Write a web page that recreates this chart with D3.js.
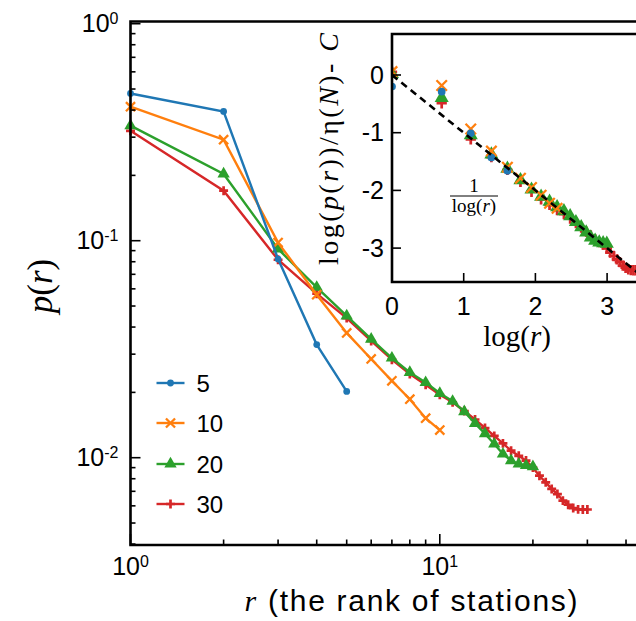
<!DOCTYPE html>
<html>
<head>
<meta charset="utf-8">
<script src="https://cdn.jsdelivr.net/npm/d3@7"></script>
<style>
  body { margin: 0; background: #fff; }
  svg { display: block; }
</style>
</head>
<body>
<svg id="chart" width="636" height="621"></svg>
<script>
// ---- data ----
const seriesNames = ["5", "10", "20", "30"];
const seriesColors = ["#1f77b4", "#ff7f0e", "#2ca02c", "#d62728"];
const p5 = [0.477, 0.394, 0.0823, 0.0332, 0.0202];
const p10 = [0.4145, 0.292, 0.098, 0.0564, 0.0376, 0.0285, 0.0226, 0.0186, 0.0152, 0.0134];
const p20 = [0.339, 0.203, 0.0916, 0.061, 0.045, 0.0352, 0.0288, 0.0247, 0.0222, 0.0198,
             0.0182, 0.0163, 0.0144, 0.0129, 0.01156, 0.0104, 0.0097, 0.00935, 0.0092, 0.0091];
const p30 = [0.321, 0.17, 0.0817, 0.057, 0.044, 0.0345, 0.0283, 0.0243, 0.0217, 0.0195,
             0.018, 0.0164, 0.015, 0.0137, 0.0126, 0.01164, 0.01077, 0.0102, 0.0097, 0.009,
             0.00826, 0.0077, 0.00718, 0.0068, 0.00634, 0.00607, 0.00586, 0.00578, 0.00577, 0.00577];
// inset: log(p(r))/eta(N) - C, one eta and C per N
const etaN = [2.165, 1.448, 1.23, 1.169];
const shiftC = [-0.142, -0.668, -0.899, -1.026];

const xMajor = [1, 10];
const xMinor = [2, 3, 4, 5, 6, 7, 8, 9, 20, 30, 40, 50];
const yMajor = [1, 0.1, 0.01];
const yMinor = [0.9, 0.8, 0.7, 0.6, 0.5, 0.4, 0.3, 0.2,
                0.09, 0.08, 0.07, 0.06, 0.05, 0.04, 0.03, 0.02,
                0.009, 0.008, 0.007, 0.006, 0.005, 0.004];
const insetXTicks = [0, 1, 2, 3];
const insetYTicks = [0, -1, -2, -3];

const series = [p5, p10, p20, p30].map((vals, i) => ({
  name: seriesNames[i],
  color: seriesColors[i],
  eta: etaN[i],
  c: shiftC[i],
  idx: i,
  points: vals.map((p, j) => ({ r: j + 1, p }))
}));

// ---- layout ----
const svg = d3.select("#chart");
const W = 636, H = 621;
const frame = { left: 130.5, top: 21.5, bottom: 545, right: 720 };
const sans = "'Liberation Sans', Arial, Helvetica, sans-serif";
const serif = "'Liberation Serif', 'Times New Roman', serif";

const x = d3.scaleLog().domain([1, 10]).range([130.5, 439.8]);
const y = d3.scaleLog().domain([1, 0.01]).range([23.7, 457.7]);

const markerFor = (i, big) => {
  const s = big ? 1.3 : 1;
  if (i === 0) return d3.symbol(d3.symbolCircle, 36 * s)();
  if (i === 1) return d3.symbol(d3.symbolTimes, 56 * s)();
  if (i === 2) return d3.symbol(d3.symbolTriangle, 66 * s)();
  return d3.symbol(d3.symbolPlus, 28 * s)();
};
const styleMarker = (sel, d) => {
  if (d.idx === 0 || d.idx === 2) sel.attr("fill", d.color).attr("stroke", "none");
  else sel.attr("fill", "none").attr("stroke", d.color).attr("stroke-width", d.idx === 1 ? 2.3 : 2.7);
};

// ---- main plot ----
const main = svg.append("g");
const drawOrder = [3, 2, 1, 0];
const line = d3.line().x(d => x(d.r)).y(d => y(d.p));

drawOrder.forEach(i => {
  const s = series[i];
  const g = main.append("g");
  g.append("path").datum(s.points)
    .attr("d", line).attr("fill", "none")
    .attr("stroke", s.color).attr("stroke-width", 2.4);
  g.selectAll("path.m").data(s.points).enter().append("path")
    .attr("class", "m")
    .attr("transform", d => `translate(${x(d.r)},${y(d.p)})`)
    .attr("d", markerFor(i))
    .each(function () { styleMarker(d3.select(this), s); });
});

// ticks (inward)
const tickG = main.append("g").attr("stroke", "#000").attr("stroke-width", 1.6);
xMajor.forEach(v => tickG.append("line").attr("x1", x(v)).attr("x2", x(v)).attr("y1", frame.bottom).attr("y2", frame.bottom - 11));
xMinor.forEach(v => tickG.append("line").attr("x1", x(v)).attr("x2", x(v)).attr("y1", frame.bottom).attr("y2", frame.bottom - 5.5));
yMajor.forEach(v => tickG.append("line").attr("x1", frame.left).attr("x2", frame.left + 10).attr("y1", y(v)).attr("y2", y(v)));
yMinor.forEach(v => tickG.append("line").attr("x1", frame.left).attr("x2", frame.left + 5).attr("y1", y(v)).attr("y2", y(v)));

// spines
main.append("path")
  .attr("d", `M${frame.right},${frame.top}H${frame.left}V${frame.bottom}H${frame.right}`)
  .attr("fill", "none").attr("stroke", "#000").attr("stroke-width", 2.6);

// tick labels
const powLabel = (sel, v) => {
  const e = Math.round(Math.log10(v));
  sel.append("tspan").text("10");
  sel.append("tspan").attr("dy", -8).attr("font-size", 16).text(String(e));
};
xMajor.forEach(v => {
  const t = main.append("text").attr("x", x(v)).attr("y", 575)
    .attr("text-anchor", "middle").attr("font-family", sans).attr("font-size", 25);
  powLabel(t, v);
});
yMajor.forEach(v => {
  const t = main.append("text").attr("x", 118.5).attr("y", y(v) + 8.5)
    .attr("text-anchor", "end").attr("font-family", sans).attr("font-size", 25);
  powLabel(t, v);
});

// axis titles
const xt = main.append("text").attr("x", 411).attr("y", 611)
  .attr("text-anchor", "middle").attr("font-family", sans).attr("font-size", 30)
  .attr("textLength", 333).attr("lengthAdjust", "spacing");
xt.append("tspan").attr("font-family", serif).attr("font-style", "italic").text("r");
xt.append("tspan").text(" (the rank of stations)");

const yt = main.append("text").attr("transform", "translate(52,286) rotate(-90)")
  .attr("text-anchor", "middle").attr("font-family", serif).attr("font-size", 35);
yt.append("tspan").attr("font-style", "italic").text("p");
yt.append("tspan").text("(");
yt.append("tspan").attr("font-style", "italic").text("r");
yt.append("tspan").text(")");

// legend
const legendY = [383, 423, 464, 504];
series.forEach((s, i) => {
  const g = main.append("g").attr("transform", `translate(0,${legendY[i]})`);
  g.append("line").attr("x1", 156.5).attr("x2", 184.5).attr("y1", 0).attr("y2", 0)
    .attr("stroke", s.color).attr("stroke-width", 2.4);
  g.append("path").attr("transform", "translate(170.5,0)").attr("d", markerFor(i))
    .each(function () { styleMarker(d3.select(this), s); });
  g.append("text").attr("x", 196.5).attr("y", 8.5)
    .attr("font-family", sans).attr("font-size", 24).text(s.name);
});

// ---- inset ----
const ix = d3.scaleLinear().domain([0, 1]).range([392, 463.7]);
const iy = d3.scaleLinear().domain([0, -1]).range([75, 132.7]);
const iframe = { left: 392, top: 34, bottom: 282, right: 720 };
const inset = svg.append("g");

inset.append("rect").attr("x", iframe.left).attr("y", iframe.top)
  .attr("width", iframe.right - iframe.left).attr("height", iframe.bottom - iframe.top)
  .attr("fill", "#fff");

svg.append("clipPath").attr("id", "insetClip").append("rect")
  .attr("x", iframe.left).attr("y", iframe.top)
  .attr("width", W - iframe.left).attr("height", iframe.bottom - iframe.top);

const iplot = inset.append("g").attr("clip-path", "url(#insetClip)");
const insetY = (s, d) => Math.log(d.p) / s.eta - s.c;

drawOrder.forEach(i => {
  const s = series[i];
  iplot.append("g").selectAll("path").data(s.points).enter().append("path")
    .attr("transform", d => `translate(${ix(Math.log(d.r))},${iy(insetY(s, d))})`)
    .attr("d", markerFor(i, true))
    .each(function () { styleMarker(d3.select(this), s); });
});

// reference slope line 1/log(r)
const refLine = [0, 3.7];
iplot.append("path")
  .datum(refLine)
  .attr("d", d3.line().x(v => ix(v)).y(v => iy(-v)))
  .attr("fill", "none").attr("stroke", "#000").attr("stroke-width", 2.6)
  .attr("stroke-dasharray", "7,5");

const itick = inset.append("g").attr("stroke", "#000").attr("stroke-width", 1.6);
insetXTicks.forEach(v => itick.append("line").attr("x1", ix(v)).attr("x2", ix(v)).attr("y1", iframe.bottom).attr("y2", iframe.bottom - 9));
insetYTicks.forEach(v => itick.append("line").attr("x1", iframe.left).attr("x2", iframe.left + 9).attr("y1", iy(v)).attr("y2", iy(v)));

inset.append("path")
  .attr("d", `M${iframe.right},${iframe.top}H${iframe.left}V${iframe.bottom}H${iframe.right}`)
  .attr("fill", "none").attr("stroke", "#000").attr("stroke-width", 2.6);

insetXTicks.forEach(v => inset.append("text").attr("x", ix(v)).attr("y", 315)
  .attr("text-anchor", "middle").attr("font-family", sans).attr("font-size", 25).text(v));
insetYTicks.forEach(v => inset.append("text").attr("x", 384).attr("y", iy(v) + 8.5)
  .attr("text-anchor", "end").attr("font-family", sans).attr("font-size", 25).text(v));

const ixt = inset.append("text").attr("x", 517).attr("y", 346)
  .attr("text-anchor", "middle").attr("font-family", serif).attr("font-size", 29);
ixt.append("tspan").text("log(");
ixt.append("tspan").attr("font-style", "italic").text("r");
ixt.append("tspan").text(")");

const iyt = inset.append("text").attr("transform", "translate(338,149) rotate(-90)")
  .attr("text-anchor", "middle").attr("font-family", serif).attr("font-size", 28)
  .attr("textLength", 232).attr("lengthAdjust", "spacing");
iyt.append("tspan").text("log(");
iyt.append("tspan").attr("font-style", "italic").text("p");
iyt.append("tspan").text("(");
iyt.append("tspan").attr("font-style", "italic").text("r");
iyt.append("tspan").text("))/\u03b7(");
iyt.append("tspan").attr("font-style", "italic").text("N");
iyt.append("tspan").text(")- ");
iyt.append("tspan").attr("font-style", "italic").text("C");

// fraction label
const frac = inset.append("g").attr("font-family", serif).attr("text-anchor", "middle");
frac.append("text").attr("x", 474).attr("y", 192).attr("font-size", 19).text("1");
frac.append("line").attr("x1", 450).attr("x2", 498).attr("y1", 196).attr("y2", 196)
  .attr("stroke", "#000").attr("stroke-width", 1);
const fl = frac.append("text").attr("x", 474).attr("y", 212).attr("font-size", 19);
fl.append("tspan").text("log(");
fl.append("tspan").attr("font-style", "italic").text("r");
fl.append("tspan").text(")");
</script>
</body>
</html>
